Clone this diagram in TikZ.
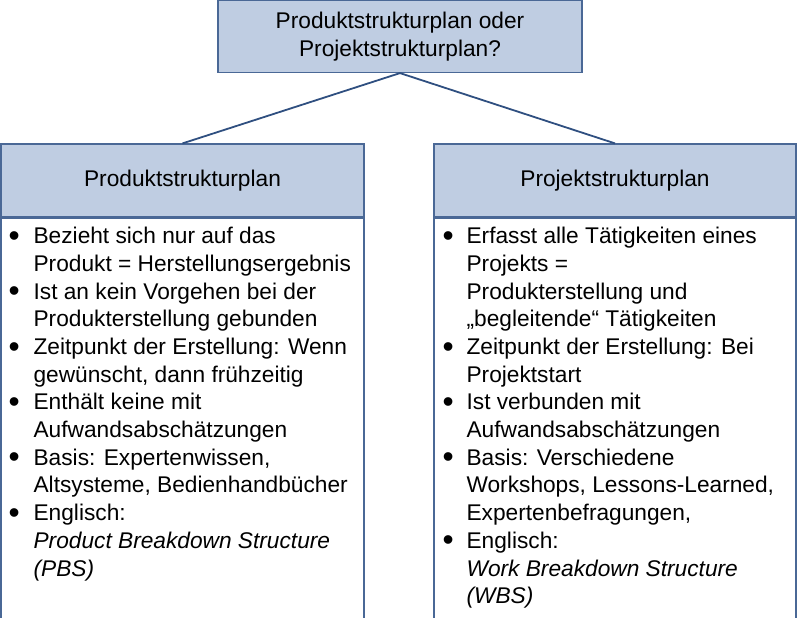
\documentclass[tikz,border=0pt]{standalone}
\usepackage{fontspec}
\setmainfont{Liberation Sans}
\definecolor{headfill}{HTML}{BFCDE2}
\definecolor{boxline}{HTML}{4A6896}
\definecolor{connline}{HTML}{2F4F80}
\newcommand{\planfont}{\fontsize{22.7}{27.7}\selectfont}
\newcommand{\planbullet}{\raisebox{-2.6pt}{\scalebox{1.4}{\textbullet}}}

\begin{document}
\begin{tikzpicture}[x=1pt, y=1pt,
  head/.style={draw=boxline, line width=1.2pt, fill=headfill, inner sep=0pt, font=\planfont, align=center},
  body/.style={draw=boxline, line width=1.2pt, fill=white, inner sep=0pt},
  list/.style={inner sep=0pt, anchor=north west, font=\planfont},
  conn/.style={draw=connline, line width=1.8pt}]
 \useasboundingbox (0,0) rectangle (800,-618);
 % Frage oben
 \node[head, minimum width=364pt, minimum height=72pt] (frage) at (400,-36.5) {Produktstrukturplan oder\\Projektstrukturplan?};
 % die beiden Spalten
 \node[head, minimum width=363pt, minimum height=73pt] (pbs) at (182.5,-180.5) {Produktstrukturplan};
 \node[head, minimum width=362pt, minimum height=73pt] (wbs) at (615,-180.5) {Projektstrukturplan};
 \node[body, minimum width=363pt, minimum height=400pt, anchor=north] (pbsbody) at (pbs.south) {};
 \node[body, minimum width=362pt, minimum height=400pt, anchor=north] (wbsbody) at (wbs.south) {};
 \draw[conn] (frage.south) -- (pbs.north);
 \draw[conn] (frage.south) -- (wbs.north);
 % Inhalte
 \node[list] (pbstext) at ([shift={(8pt,-6.5pt)}]pbsbody.north west) {%
  \begin{tabular}{@{}p{25pt}@{}l@{}}
  \planbullet & Bezieht sich nur auf das\\
   & Produkt = Herstellungsergebnis\\
  \planbullet & Ist an kein Vorgehen bei der\\
   & Produkterstellung gebunden\\
  \planbullet & Zeitpunkt der Erstellung: Wenn\\
   & gewünscht, dann frühzeitig\\
  \planbullet & Enthält keine mit\\
   & Aufwandsabschätzungen\\
  \planbullet & Basis: Expertenwissen,\\
   & Altsysteme, Bedienhandbücher\\
  \planbullet & Englisch:\\
   & \textit{Product Breakdown Structure}\\
   & \textit{(PBS)}
  \end{tabular}};
 \node[list] (wbstext) at ([shift={(9pt,-6.5pt)}]wbsbody.north west) {%
  \begin{tabular}{@{}p{24pt}@{}l@{}}
  \planbullet & Erfasst alle Tätigkeiten eines\\
   & Projekts =\\
   & Produkterstellung und\\
   & „begleitende“ Tätigkeiten\\
  \planbullet & Zeitpunkt der Erstellung: Bei\\
   & Projektstart\\
  \planbullet & Ist verbunden mit\\
   & Aufwandsabschätzungen\\
  \planbullet & Basis: Verschiedene\\
   & Workshops, Lessons-Learned,\\
   & Expertenbefragungen,\\
  \planbullet & Englisch:\\
   & \textit{Work Breakdown Structure}\\
   & \textit{(WBS)}
  \end{tabular}};
\end{tikzpicture}
\end{document}
